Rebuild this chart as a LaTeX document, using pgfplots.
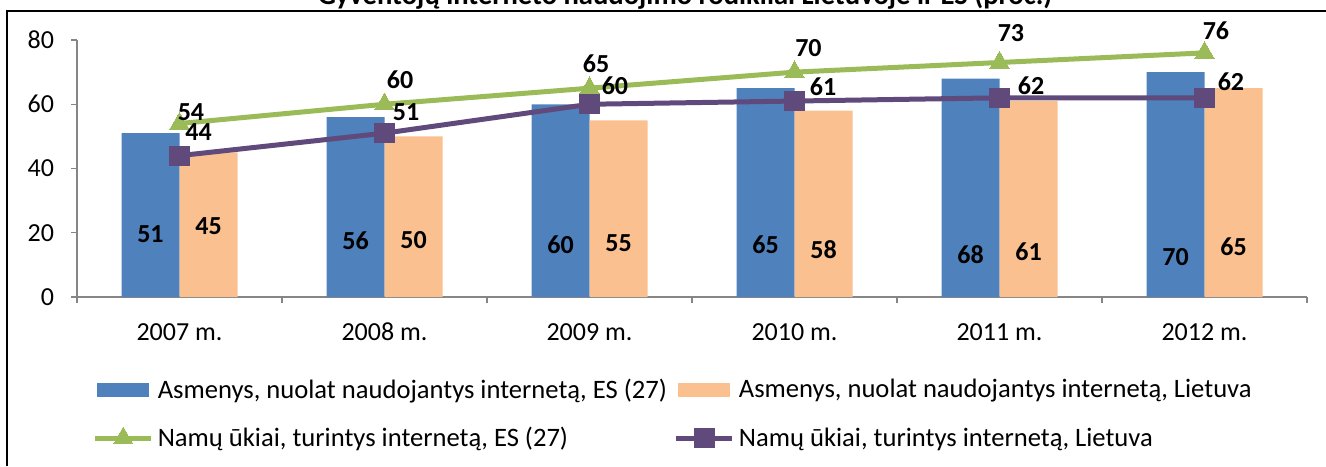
\documentclass[border=0pt]{standalone}
\usepackage{fontspec}
\setmainfont{Carlito}
\usepackage{pgfplots}
\pgfplotsset{compat=1.18}
\definecolor{cblue}{HTML}{4F81BD}
\definecolor{corange}{HTML}{FAC090}
\definecolor{cgreen}{HTML}{9BBB59}
\definecolor{cpurple}{HTML}{604A7B}
\definecolor{caxis}{HTML}{868686}
\pgfplotsset{
  linelegend/.style={legend image code/.code={\draw[mark repeat=2,mark phase=2,##1] plot coordinates {(0pt,0pt) (14pt,0pt) (28pt,0pt)};}},
  barlegend/.style={legend image code/.code={\fill[##1] (1pt,-3.5pt) rectangle (27pt,3.5pt);}},
}
\begin{document}
\begin{tikzpicture}
\begin{axis}[
  at={(38.5pt,84.5pt)}, anchor=south west,
  scale only axis, width=615pt, height=128.5pt,
  xmin=-0.5, xmax=5.5, ymin=0, ymax=80,
  clip=false,
  axis lines*=left,
  axis line style={caxis, line width=0.6pt},
  xtick={0,1,2,3,4,5},
  xticklabels={2007 m.,2008 m.,2009 m.,2010 m.,2011 m.,2012 m.},
  minor xtick={-0.5,0.5,1.5,2.5,3.5,4.5,5.5},
  major x tick style={draw=none},
  minor x tick style={caxis, line width=0.6pt},
  minor tick length=3pt,
  ytick={0,20,40,60,80},
  y tick style={caxis, line width=0.6pt},
  major tick length=3pt,
  tick align=outside,
  /pgf/number format/assume math mode=true,
  tick label style={font=\fontsize{13}{15}\selectfont, text=black},
  xticklabel style={anchor=north, text height=9pt, text depth=2.5pt, yshift=-6pt},
  yticklabel style={xshift=-5pt},
  legend columns=2,
  legend cell align=left,
  legend style={draw=none, fill=none, inner sep=0pt,
    at={(axis description cs:0.0125,-0.316)}, anchor=north west,
    font=\fontsize{13.3}{15}\selectfont,
    column sep=2pt,
    /tikz/every even column/.append style={column sep=3.5pt},
    row sep=13pt,
    nodes={inner sep=0pt}},
]
\addplot[ybar, bar width=29pt, bar shift=-14.5pt, fill=cblue, draw=none, barlegend]
  coordinates {(0,51) (1,56) (2,60) (3,65) (4,68) (5,70)};
\addlegendentry{Asmenys, nuolat naudojantys internetą, ES (27)}
\addplot[ybar, bar width=29pt, bar shift=14.5pt, fill=corange, draw=none, barlegend]
  coordinates {(0,45) (1,50) (2,55) (3,58) (4,61) (5,65)};
\addlegendentry{Asmenys, nuolat naudojantys internetą, Lietuva}
\addplot[cgreen, line width=2.5pt, mark=triangle*, mark size=5.6pt,
  mark options={solid, line width=0pt}, linelegend]
  coordinates {(0,54) (1,60) (2,65) (3,70) (4,73) (5,76)};
\addlegendentry{Namų ūkiai, turintys internetą, ES (27)}
\addplot[cpurple, line width=2.5pt, mark=square*, mark size=4.8pt,
  mark options={solid, line width=0pt}, linelegend]
  coordinates {(0,44) (1,51) (2,60) (3,61) (4,62) (5,62)};
\addlegendentry{Namų ūkiai, turintys internetą, Lietuva}
% data labels
\addplot[forget plot, draw=none, mark=none, nodes near coords, point meta=explicit symbolic,
  every node near coord/.style={anchor=center, font=\bfseries\fontsize{13}{15}\selectfont, text=black, inner sep=0pt}]
  table[meta=l] {
x y l
-0.1415 19.5 51
0.1415 21.9 45
0.8585 17.4 56
1.1415 17.7 50
1.8585 16.2 60
2.1415 16.8 55
2.8585 16.2 65
3.1415 14.6 58
3.8585 13.1 68
4.1415 14.0 61
4.8585 12.3 70
5.1415 15.6 65
0.056 57.4 54
1.076 67.5 60
2.032 72.7 65
3.068 77.5 70
4.056 82.2 73
5.056 82.8 76
0.093 51.4 44
1.105 57.6 51
2.124 65.7 60
3.139 65.4 61
4.154 65.7 62
5.129 66.9 62
};
\end{axis}
\node[font=\bfseries\fontsize{14.3}{16}\selectfont, anchor=base] at (342.5pt,230.5pt)
  {Gyventojų interneto naudojimo rodikliai Lietuvoje ir ES (proc.)};
\draw[black, line width=0.9pt] (3.5pt,0pt) -- (3.5pt,227.6pt) -- (663pt,227.6pt);
\pgfresetboundingbox
\path[use as bounding box] (0pt,0pt) rectangle (663pt,233pt);
\end{tikzpicture}
\end{document}
